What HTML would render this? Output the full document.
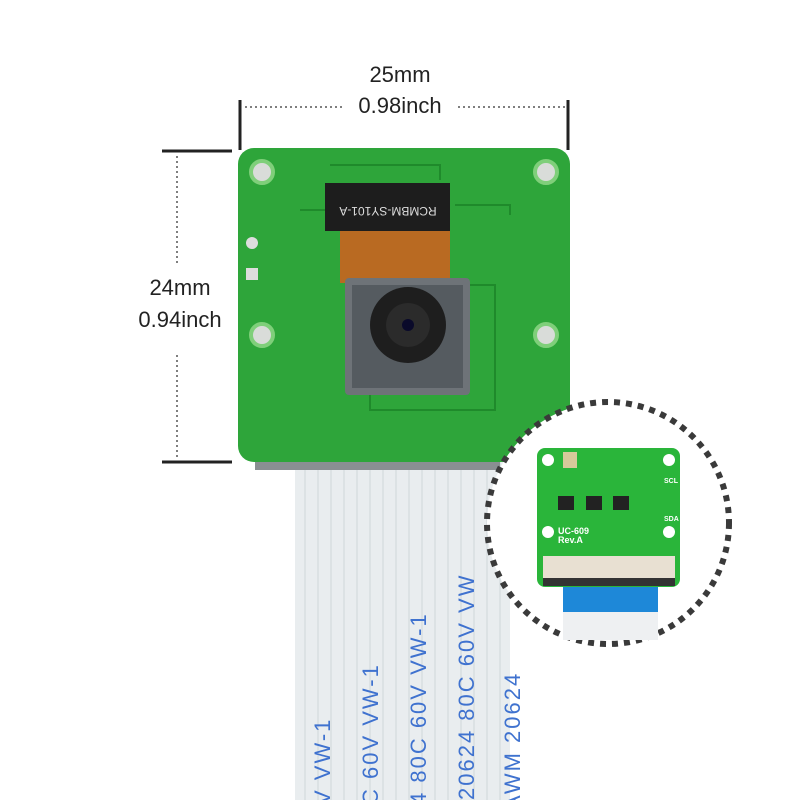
<!DOCTYPE html>
<html><head><style>
body{margin:0;width:800px;height:800px;background:#fff;overflow:hidden;position:relative;font-family:"Liberation Sans",sans-serif}
.a{position:absolute}
.t{position:absolute;font-size:22px;color:#222;text-align:center}
</style></head><body>
<svg class="a" style="left:0;top:0" width="800" height="800">
<rect x="295" y="462" width="215" height="338" fill="#e9edef"/>
<g stroke="#cfd6da" stroke-width="1">
<line x1="305" y1="462" x2="305" y2="800"/><line x1="318" y1="462" x2="318" y2="800"/><line x1="331" y1="462" x2="331" y2="800"/><line x1="344" y1="462" x2="344" y2="800"/><line x1="357" y1="462" x2="357" y2="800"/><line x1="370" y1="462" x2="370" y2="800"/><line x1="383" y1="462" x2="383" y2="800"/><line x1="396" y1="462" x2="396" y2="800"/><line x1="409" y1="462" x2="409" y2="800"/><line x1="422" y1="462" x2="422" y2="800"/><line x1="435" y1="462" x2="435" y2="800"/><line x1="448" y1="462" x2="448" y2="800"/><line x1="461" y1="462" x2="461" y2="800"/><line x1="474" y1="462" x2="474" y2="800"/><line x1="487" y1="462" x2="487" y2="800"/><line x1="500" y1="462" x2="500" y2="800"/>
</g>
<g fill="#3f72cf" font-family="Liberation Sans,sans-serif" font-size="22" letter-spacing="2">
<text transform="translate(330,805) rotate(-90)">V   VW-1</text>
<text transform="translate(378,805) rotate(-90)">C   60V   VW-1</text>
<text transform="translate(426,805) rotate(-90)">4   80C   60V   VW-1</text>
<text transform="translate(474,800) rotate(-90)">20624   80C   60V   VW</text>
<text transform="translate(520,810) rotate(-90)">AWM   20624</text>
</g>
<rect x="255" y="455" width="245" height="15" fill="#8a8f92"/>
<rect x="238" y="148" width="332" height="314" rx="16" fill="#2ea53a"/>
<g fill="#d9dcd9" stroke="#7fcf7a" stroke-width="4">
<circle cx="262" cy="172" r="11"/><circle cx="546" cy="172" r="11"/><circle cx="262" cy="335" r="11"/><circle cx="546" cy="335" r="11"/>
</g>
<rect x="246" y="268" width="12" height="12" fill="#ddd"/><circle cx="252" cy="243" r="6" fill="#ddd"/>
<g fill="none" stroke="#1f8a2b" stroke-width="2">
<path d="M330 165 H440 V180"/><path d="M470 285 H495 V410 H370 V395"/><path d="M455 205 H510 V215"/><path d="M300 210 H325"/>
</g>
<rect x="340" y="225" width="110" height="58" fill="#b96a22"/>
<rect x="325" y="183" width="125" height="48" fill="#1d1d1d"/>
<text transform="translate(388,207) rotate(180)" text-anchor="middle" fill="#ddd" font-size="12" font-family="Liberation Sans,sans-serif">RCMBM-SY101-A</text>
<rect x="345" y="278" width="125" height="117" rx="4" fill="#6e7378"/>
<rect x="352" y="285" width="111" height="103" fill="#555b60"/>
<circle cx="408" cy="325" r="38" fill="#1e1e1e"/>
<circle cx="408" cy="325" r="22" fill="#2b2b2b"/>
<circle cx="408" cy="325" r="6" fill="#0a0a2a"/>
<g stroke="#222" stroke-width="3"><line x1="240" y1="100" x2="240" y2="150"/><line x1="568" y1="100" x2="568" y2="150"/><line x1="162" y1="151" x2="232" y2="151"/><line x1="162" y1="462" x2="232" y2="462"/></g>
<g stroke="#555" stroke-width="1.5" stroke-dasharray="2,3"><line x1="245" y1="107" x2="345" y2="107"/><line x1="458" y1="107" x2="565" y2="107"/><line x1="177" y1="156" x2="177" y2="265"/><line x1="177" y1="355" x2="177" y2="458"/></g>
<circle cx="608" cy="523" r="121" fill="#fff" stroke="#3a3a3a" stroke-width="6" stroke-dasharray="6,6"/>
<rect x="563" y="580" width="95" height="32" fill="#1e88d8"/>
<rect x="563" y="612" width="95" height="28" fill="#eef0f2"/>
<rect x="537" y="448" width="143" height="139" rx="8" fill="#2ab53a"/>
<g fill="#fff"><circle cx="548" cy="460" r="6"/><circle cx="669" cy="460" r="6"/><circle cx="548" cy="532" r="6"/><circle cx="669" cy="532" r="6"/></g>
<rect x="543" y="556" width="132" height="24" fill="#e8e0d2"/>
<rect x="543" y="578" width="132" height="8" fill="#333"/>
<g fill="#222"><rect x="558" y="496" width="16" height="14"/><rect x="586" y="496" width="16" height="14"/><rect x="613" y="496" width="16" height="14"/></g>
<rect x="563" y="452" width="14" height="16" fill="#d8c99a"/>
<text x="558" y="534" fill="#fff" font-size="9" font-weight="bold" font-family="Liberation Sans,sans-serif">UC-609</text>
<text x="558" y="543" fill="#fff" font-size="9" font-weight="bold" font-family="Liberation Sans,sans-serif">Rev.A</text>
<text x="664" y="483" fill="#fff" font-size="7" font-weight="bold" font-family="Liberation Sans,sans-serif">SCL</text>
<text x="664" y="521" fill="#fff" font-size="7" font-weight="bold" font-family="Liberation Sans,sans-serif">SDA</text>
</svg>
<div class="t" style="left:330px;top:62px;width:140px">25mm</div>
<div class="t" style="left:330px;top:93px;width:140px">0.98inch</div>
<div class="t" style="left:110px;top:275px;width:140px">24mm</div>
<div class="t" style="left:110px;top:307px;width:140px">0.94inch</div>
</body></html>
